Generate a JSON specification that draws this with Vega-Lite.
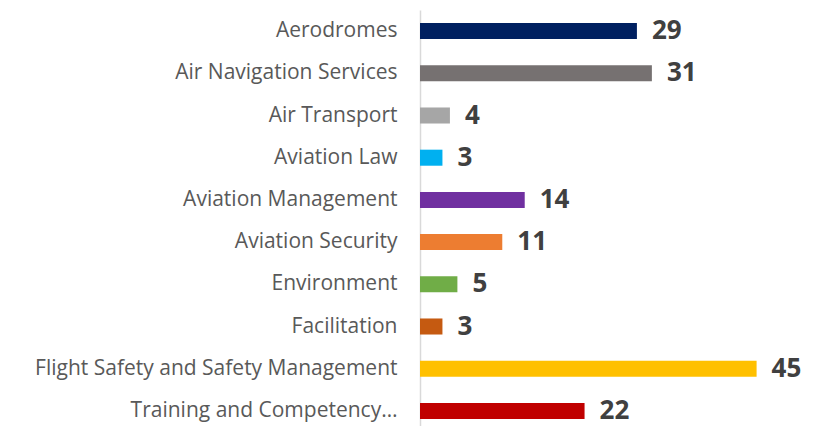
{
  "$schema": "https://vega.github.io/schema/vega-lite/v6.json",
  "autosize": "none",
  "padding": {"left": 420, "top": 10, "right": 44, "bottom": 0},
  "width": 374,
  "height": 422,
  "background": "white",
  "data": {"values": [
    {"category": "Aerodromes", "count": 29},
    {"category": "Air Navigation Services", "count": 31},
    {"category": "Air Transport", "count": 4},
    {"category": "Aviation Law", "count": 3},
    {"category": "Aviation Management", "count": 14},
    {"category": "Aviation Security", "count": 11},
    {"category": "Environment", "count": 5},
    {"category": "Facilitation", "count": 3},
    {"category": "Flight Safety and Safety Management", "count": 45},
    {"category": "Training and Competency…", "count": 22}
  ]},
  "config": {"view": {"stroke": null}},
  "encoding": {
    "y": {"field": "category", "type": "nominal", "sort": null,
      "scale": {"paddingInner": 0.62, "paddingOuter": 0.31},
      "axis": {"title": null, "ticks": false, "domainColor": "#d9d9d9", "domainWidth": 1.5,
        "labelFont": "Open Sans", "labelFontSize": 21, "labelColor": "#595959", "labelPadding": 23, "labelLimit": 420}},
    "x": {"field": "count", "type": "quantitative", "scale": {"domain": [0, 50]}, "axis": null}
  },
  "layer": [
    {"mark": {"type": "bar"},
     "encoding": {"color": {"field": "category", "type": "nominal", "legend": null, "scale": {
       "domain": ["Aerodromes", "Air Navigation Services", "Air Transport", "Aviation Law", "Aviation Management", "Aviation Security", "Environment", "Facilitation", "Flight Safety and Safety Management", "Training and Competency…"],
       "range": ["#002060", "#767171", "#a6a6a6", "#00b0f0", "#7030a0", "#ed7d31", "#70ad47", "#c55a11", "#ffc000", "#c00000"]}}}},
    {"mark": {"type": "text", "align": "left", "baseline": "middle", "dx": 15, "dy": 0, "font": "Open Sans", "fontSize": 26, "fontWeight": "bold", "fill": "#404040"},
     "encoding": {"text": {"field": "count", "type": "quantitative"}}}
  ]
}
